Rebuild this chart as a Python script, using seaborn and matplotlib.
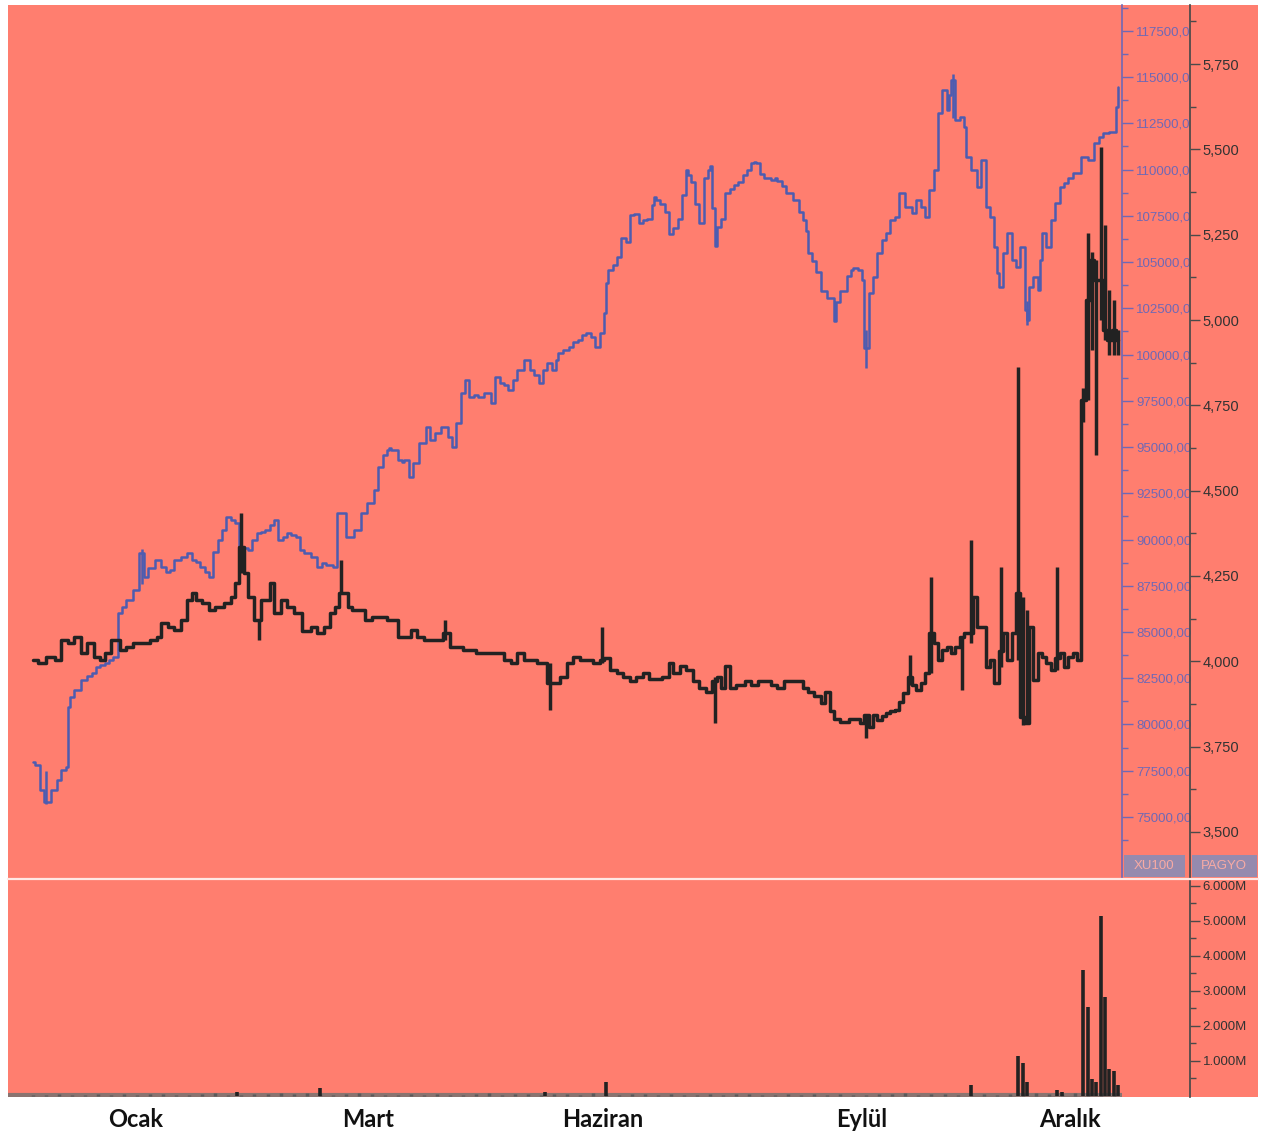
import numpy as np
import matplotlib.pyplot as plt
from matplotlib.patches import Rectangle
from matplotlib.lines import Line2D
import seaborn as sns

# ── Colours ──────────────────────────────────────────────────────────────────
SALMON = "#ff7e6f"
BLUE = "#4d5cb0"
BLUE_AXIS = "#6f68b5"
BLACK = "#222222"
DARK_AXIS = "#4a4a4a"

# ── Data ─────────────────────────────────────────────────────────────────────
# XU100 closes, by trading day
xu_day = [0, 1, 2, 3, 5, 6, 7, 8, 8, 9, 10, 12, 13, 14, 15, 16, 17, 18, 19, 20,
          21, 22, 24, 25, 26, 27, 29, 30, 31, 32, 33, 35, 36, 37, 38, 39, 40, 41,
          42, 43, 44, 45, 46, 47, 48, 49, 50, 51, 52, 53, 54, 55, 56, 57, 58, 59,
          60, 61, 62, 63, 65, 66, 67, 68, 70, 70, 71, 73, 75, 76, 78, 79, 80, 81,
          82, 82, 83, 85, 85, 86, 87, 88, 90, 91, 92, 93, 95, 96, 97, 98, 99, 100,
          101, 102, 103, 105, 106, 107, 108, 109, 110, 111, 112, 114, 115, 116,
          117, 118, 119, 120, 121, 121, 123, 124, 125, 126, 127, 128, 129, 130,
          131, 132, 132, 133, 134, 135, 136, 137, 138, 139, 140, 141, 142, 143,
          143, 144, 145, 146, 147, 148, 149, 150, 151, 151, 152, 153, 154, 155,
          156, 156, 157, 157, 158, 159, 160, 161, 162, 163, 164, 165, 166, 166,
          167, 168, 169, 171, 171, 172, 173, 174, 176, 177, 178, 178, 179, 180,
          181, 182, 184, 185, 185, 187, 188, 189, 189, 191, 191, 192, 193, 194,
          195, 196, 197, 198, 199, 200, 202, 203, 204, 205, 206, 207, 208, 209,
          210, 211, 211, 212, 213, 214, 215, 215, 217, 218, 219, 220, 221, 222,
          222, 223, 224, 225, 226, 227, 228, 229, 229, 230, 231, 232, 232, 233,
          234, 235, 236, 237, 238, 239, 240, 241, 242, 244, 245, 246, 247, 249,
          250, 250]
xu_close = [77970, 77810, 76460, 75810, 76460, 77000, 77540, 77700, 80950, 81490,
            81870, 82410, 82620, 82790, 83110, 83220, 83330, 83490, 83650, 86030,
            86350, 86730, 87270, 89270, 87980, 88460, 88900, 88520, 88250, 88360,
            88900, 89060, 89270, 88900, 88790, 88520, 88250, 87980, 89330, 89980,
            90520, 91220, 91060, 90900, 89600, 89550, 89440, 89980, 90360, 90410,
            90520, 90790, 91060, 89980, 90140, 90360, 90250, 90140, 89440, 89270,
            89060, 88520, 88730, 88630, 88520, 91440, 91440, 90140, 90520, 91440,
            91980, 92680, 93920, 94570, 94840, 94950, 94840, 94300, 94190, 94300,
            93380, 94140, 95220, 96090, 95380, 95760, 96090, 95550, 95010, 96300,
            97930, 98630, 97710, 97820, 97710, 97930, 97390, 98790, 98470, 98360,
            98090, 98630, 99170, 99710, 99170, 98900, 98470, 99170, 99550, 99170,
            99710, 100090, 100250, 100410, 100680, 100790, 101060, 101170, 100950,
            100410, 101170, 102250, 103870, 104580, 104850, 105280, 106310, 106090,
            107550, 107600, 107120, 107280, 107340, 108090, 108520, 108360, 108140,
            107710, 106520, 106850, 107340, 108630, 109980, 109710, 109330, 108140,
            107120, 109550, 109980, 110200, 107930, 105870, 106900, 107340, 108740,
            108960, 109170, 109330, 109710, 109980, 110360, 110410, 110360, 109770,
            109550, 109440, 109550, 109390, 109120, 108740, 108360, 107710, 107280,
            106690, 105500, 105060, 104470, 103440, 103060, 101820, 102850, 103440,
            104250, 104580, 104690, 104580, 104040, 100360, 103330, 104200, 105500,
            106200, 106580, 107280, 107440, 108740, 107980, 107660, 108360, 107980,
            107440, 108900, 109980, 113070, 114310, 113230, 114040, 114850, 112690,
            112850, 112310, 110690, 109980, 109060, 110520, 107980, 107440, 105820,
            104410, 103660, 105500, 106580, 105120, 104740, 105820, 102410, 101870,
            103660, 104200, 103500, 105120, 106580, 105820, 107280, 108200, 109060,
            109280, 109550, 109820, 109820, 110690, 110520, 111440, 111770, 111980,
            112040, 113390, 114470]
xu_wick_day = [3, 25, 192, 212, 229]
xu_wick_low = [75700, 87600, 99280, 112800, 101600]
xu_wick_high = [77500, 89500, 101330, 115150, 102900]

# PAGYO closes, by trading day
pg_day = [0, 2, 4, 6, 7, 9, 10, 12, 13, 15, 16, 17, 19, 21, 22, 24, 26, 28, 29, 30,
          32, 33, 35, 36, 37, 38, 40, 41, 43, 45, 46, 47, 48, 49, 50, 52, 53, 54,
          55, 56, 58, 59, 61, 63, 65, 66, 68, 69, 70, 71, 72, 73, 74, 76, 77, 79,
          81, 82, 83, 85, 86, 88, 89, 91, 92, 94, 95, 97, 98, 100, 101, 103, 105,
          106, 108, 109, 111, 112, 114, 115, 117, 118, 119, 121, 122, 124, 125,
          127, 128, 130, 131, 132, 134, 135, 137, 138, 140, 141, 143, 144, 146,
          147, 148, 150, 151, 153, 154, 156, 157, 158, 159, 160, 161, 163, 165,
          166, 168, 169, 171, 172, 174, 175, 177, 178, 179, 181, 182, 183, 184,
          185, 187, 189, 190, 191, 192, 193, 194, 195, 196, 197, 198, 199, 200,
          201, 202, 203, 204, 205, 206, 207, 208, 209, 210, 211, 212, 213, 214,
          215, 216, 217, 218, 219, 220, 221, 222, 223, 224, 225, 226, 227, 228,
          229, 230, 231, 232, 233, 234, 235, 236, 237, 238, 239, 240, 241, 242,
          243, 244, 245, 246, 247, 248, 249, 250]
pg_close = [4004, 3995, 4013, 4004, 4062, 4054, 4071, 4024, 4054, 4013, 4004, 4024,
            4062, 4033, 4042, 4054, 4054, 4062, 4071, 4112, 4101, 4092, 4121, 4180,
            4200, 4180, 4171, 4150, 4159, 4171, 4188, 4230, 4335, 4259, 4188, 4121,
            4180, 4180, 4230, 4142, 4180, 4159, 4142, 4090, 4101, 4083, 4101, 4142,
            4159, 4200, 4200, 4159, 4150, 4150, 4121, 4130, 4130, 4121, 4121, 4071,
            4071, 4092, 4071, 4062, 4062, 4062, 4083, 4042, 4042, 4033, 4033, 4024,
            4024, 4024, 4024, 4004, 3995, 4024, 4004, 4004, 3995, 3995, 3937, 3937,
            3954, 3995, 4013, 4004, 4004, 3995, 4004, 4010, 3975, 3965, 3955, 3942,
            3955, 3965, 3948, 3948, 3955, 3995, 3965, 3986, 3975, 3942, 3922, 3910,
            3942, 3955, 3922, 3986, 3922, 3930, 3942, 3930, 3942, 3942, 3930, 3922,
            3942, 3942, 3942, 3922, 3910, 3898, 3878, 3910, 3855, 3831, 3822, 3831,
            3831, 3819, 3842, 3808, 3842, 3828, 3840, 3849, 3855, 3857, 3880, 3907,
            3954, 3930, 3916, 3937, 3966, 4083, 4054, 4004, 4033, 4042, 4024, 4042,
            4071, 4083, 4083, 4188, 4101, 4101, 3983, 4004, 3937, 4030, 4083, 4004,
            4083, 4200, 3837, 3819, 4101, 3945, 4024, 4013, 3995, 3975, 4010, 4024,
            3983, 4013, 4024, 4004, 4766, 5059, 5176, 5117, 5117, 4971, 4941, 4971,
            4941]
pg_wick_day = [48, 52, 71, 95, 119, 131, 157, 192, 202, 207, 214, 216, 223, 227,
               228, 229, 236, 242, 243, 244, 245, 246, 247, 248, 249, 250]
pg_wick_low = [4259, 4062, 4200, 4062, 3857, 3995, 3820, 3775, 3930, 3966, 3916,
               4054, 3983, 4004, 3813, 3819, 3975, 4700, 4766, 4912, 4604, 5000,
               4941, 4897, 4897, 4897]
pg_wick_high = [4435, 4121, 4297, 4121, 3995, 4101, 3955, 3842, 4019, 4247, 4071,
                4355, 4276, 4862, 4188, 4150, 4276, 4800, 5255, 5200, 5176, 5507,
                5278, 5088, 5059, 4971]

# PAGYO volume (millions): quiet days every third session, then the spikes
base_vol = [0.04, 0.03, 0.05, 0.03, 0.04, 0.06, 0.03, 0.05, 0.04, 0.06, 0.05, 0.04,
            0.03, 0.05, 0.07, 0.04, 0.03, 0.05, 0.06, 0.08, 0.05, 0.07, 0.06, 0.04,
            0.05, 0.08, 0.05, 0.04, 0.03, 0.05, 0.04, 0.06, 0.03, 0.04, 0.05, 0.07,
            0.04, 0.06, 0.05, 0.04, 0.05, 0.06, 0.04, 0.07, 0.05, 0.04, 0.06, 0.05,
            0.04, 0.05, 0.03, 0.04, 0.05, 0.04, 0.06, 0.05, 0.04, 0.03, 0.05, 0.04,
            0.06, 0.04, 0.05, 0.03, 0.04, 0.06, 0.05, 0.07, 0.04, 0.05, 0.06, 0.04,
            0.03, 0.05, 0.04, 0.06, 0.05, 0.07, 0.06, 0.05, 0.08, 0.06, 0.05, 0.04]
base_day = list(range(0, 3 * len(base_vol), 3))
vol_day = [47, 66, 118, 132, 216, 227, 228, 229, 236, 237, 242, 243, 244, 245, 246,
           247, 248, 249, 250]
vol_m = [0.12, 0.22, 0.10, 0.40, 0.31, 1.13, 0.95, 0.40, 0.17, 0.10, 3.59, 2.54,
         0.48, 0.40, 5.14, 2.82, 0.76, 0.71, 0.31]

months = ["Ocak", "Mart", "Haziran", "Eylül", "Aralık"]
month_day = [23.5, 77.2, 131.3, 191.0, 238.9]

xu_ticks = list(range(75000, 117501, 2500))
pg_ticks = list(range(3500, 5751, 250))
vol_ticks = [1, 2, 3, 4, 5, 6]

assert len(xu_day) == len(xu_close)
assert len(pg_day) == len(pg_close)

# ── Style ────────────────────────────────────────────────────────────────────
sns.set_theme(style="white")
plt.rcParams["font.family"] = ["Liberation Sans", "DejaVu Sans"]

W, H = 1263, 1136


def fx(px):
    return px / W


def fy(py):
    return 1 - py / H


fig = plt.figure(figsize=(W / 100, H / 100), dpi=100, facecolor="white")
fig.add_artist(Rectangle((fx(8), fy(1097)), fx(1258) - fx(8), fy(5) - fy(1097),
                         transform=fig.transFigure, facecolor=SALMON,
                         edgecolor="none", zorder=-5))

ax_xu = fig.add_axes([fx(8), fy(878), fx(1122) - fx(8), fy(5) - fy(878)])
ax_pg = ax_xu.twinx()
ax_vol = fig.add_axes([fx(8), fy(1097), fx(1122) - fx(8), fy(881) - fy(1097)])
for ax in (ax_xu, ax_pg, ax_vol):
    ax.set_facecolor("none")
    ax.patch.set_visible(False)
    for side in ("top", "left", "bottom"):
        ax.spines[side].set_visible(False)
    ax.set_xlim(-5.8, 250.9)
    ax.grid(False)

SPINE_POS = (1190 - 8) / (1122 - 8)

# ── XU100 ────────────────────────────────────────────────────────────────────
sns.lineplot(x=xu_day, y=xu_close, ax=ax_xu, estimator=None, sort=False,
             drawstyle="steps-mid", color=BLUE, linewidth=1.8)
ax_xu.vlines(xu_wick_day, xu_wick_low, xu_wick_high, color=BLUE, linewidth=1.8)
ax_xu.set_ylim(71700, 118900)
ax_xu.yaxis.tick_right()
ax_xu.set_yticks(xu_ticks)
ax_xu.set_yticklabels([f"{v},00"[:8] for v in xu_ticks])
ax_xu.set_yticks(np.arange(73750, 118900, 2500), minor=True)
ax_xu.tick_params(axis="y", which="major", colors=BLUE_AXIS, length=8, width=1,
                  pad=2, labelsize=9.5)
ax_xu.tick_params(axis="y", which="minor", colors=BLUE_AXIS, length=4, width=1)
ax_xu.spines["right"].set_color(BLUE_AXIS)
ax_xu.spines["right"].set_linewidth(1.2)
ax_xu.set_xticks([])
ax_xu.set_xlabel("")
ax_xu.set_ylabel("")

# ── PAGYO ────────────────────────────────────────────────────────────────────
sns.lineplot(x=pg_day, y=pg_close, ax=ax_pg, estimator=None, sort=False,
             drawstyle="steps-mid", color=BLACK, linewidth=2.5)
ax_pg.vlines(pg_wick_day, pg_wick_low, pg_wick_high, color=BLACK, linewidth=2.5)
ax_pg.set_ylim(3365, 5923)
ax_pg.spines["right"].set_position(("axes", SPINE_POS))
ax_pg.spines["right"].set_color(DARK_AXIS)
ax_pg.set_yticks(pg_ticks)
ax_pg.set_yticklabels([f"{v:,}" for v in pg_ticks])
ax_pg.set_yticks(np.arange(3625, 5900, 250), minor=True)
ax_pg.tick_params(axis="y", which="major", colors=DARK_AXIS, labelcolor="#333333",
                  length=7, width=1, pad=2, labelsize=10.5)
ax_pg.tick_params(axis="y", which="minor", colors=DARK_AXIS, length=4, width=1)
ax_pg.set_xticks([])
ax_pg.set_xlabel("")
ax_pg.set_ylabel("")

# ── Volume ───────────────────────────────────────────────────────────────────
ax_vol.axhline(0.02, color="#8a7470", linewidth=3, zorder=1)
ax_vol.vlines(base_day, 0, base_vol, color="#5a5a5a", linewidth=2.5, zorder=2)
ax_vol.vlines(vol_day, 0, vol_m, color=BLACK, linewidth=2.6, zorder=3)
ax_vol.set_ylim(-0.03, 6.13)
ax_vol.yaxis.tick_right()
ax_vol.spines["right"].set_position(("axes", SPINE_POS))
ax_vol.spines["right"].set_color(DARK_AXIS)
ax_vol.set_yticks(vol_ticks)
ax_vol.set_yticklabels([f"{v:.3f}M" for v in vol_ticks])
ax_vol.set_yticks(np.arange(0.5, 6.1, 1.0), minor=True)
ax_vol.tick_params(axis="y", which="major", colors=DARK_AXIS, labelcolor="#333333",
                   length=7, width=1, pad=2, labelsize=9.5)
ax_vol.tick_params(axis="y", which="minor", colors=DARK_AXIS, length=4, width=1)
ax_vol.set_xticks(month_day)
ax_vol.set_xticklabels(months, fontsize=17, fontweight="bold", color="#111111",
                       family=["Lato", "DejaVu Sans"])
ax_vol.tick_params(axis="x", length=0, pad=8)

# ── Panel separator and series tags ──────────────────────────────────────────
fig.add_artist(Line2D([fx(8), fx(1258)], [fy(879), fy(879)], color="#ffe8e4",
                      linewidth=1.6, transform=fig.transFigure))
TAG = "#958aae"
fig.add_artist(Rectangle((fx(1124), fy(877)), fx(1185) - fx(1124), fy(855) - fy(877),
                         transform=fig.transFigure, facecolor=TAG, edgecolor="none"))
fig.add_artist(Rectangle((fx(1192), fy(877)), fx(1257) - fx(1192), fy(855) - fy(877),
                         transform=fig.transFigure, facecolor=TAG, edgecolor="none"))
fig.text(fx(1154), fy(866), "XU100", color="#f8aaa4", fontsize=9.5,
         ha="center", va="center")
fig.text(fx(1224), fy(866), "PAGYO", color="#f8aaa4", fontsize=9.5,
         ha="center", va="center")

fig.savefig("out.png", dpi=100, facecolor="white")
